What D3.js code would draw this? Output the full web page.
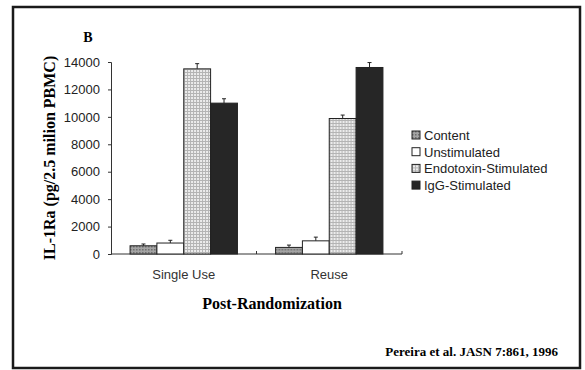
<!DOCTYPE html>
<html>
<head>
<meta charset="utf-8">
<script src="https://cdn.jsdelivr.net/npm/d3@7"></script>
<style>
  body { margin: 0; background: #fff; }
  svg { display: block; }
</style>
</head>
<body>
<svg id="chart"></svg>
<script>
// data
const categories = ["Single Use", "Reuse"];
const series = ["Content", "Unstimulated", "Endotoxin-Stimulated", "IgG-Stimulated"];
const singleUse = [600, 800, 13500, 11000];
const singleUseErr = [130, 200, 380, 320];
const reuse = [480, 960, 9880, 13600];
const reuseErr = [170, 270, 250, 360];
const yTicks = [0, 2000, 4000, 6000, 8000, 10000, 12000, 14000];

const values = [singleUse, reuse];
const errors = [singleUseErr, reuseErr];
const fills = ["url(#dots)", "#ffffff", "url(#grid)", "#262626"];

const W = 585, H = 370;
const svg = d3.select('#chart').attr('width', W).attr('height', H);

// patterns for the shaded bars
const defs = svg.append('defs');
const dots = defs.append('pattern').attr('id', 'dots')
  .attr('patternUnits', 'userSpaceOnUse').attr('width', 3).attr('height', 3);
dots.append('rect').attr('width', 3).attr('height', 3).attr('fill', '#a4a4a4');
dots.append('rect').attr('width', 1.5).attr('height', 1.5).attr('fill', '#6e6e6e');
const grid = defs.append('pattern').attr('id', 'grid')
  .attr('patternUnits', 'userSpaceOnUse').attr('width', 3).attr('height', 3);
grid.append('rect').attr('width', 3).attr('height', 3).attr('fill', '#ececec');
grid.append('path').attr('d', 'M0,0.5H3M0.5,0V3').attr('stroke', '#b4b4b4').attr('stroke-width', 1);

// outer frame
svg.append('rect').attr('x', 13).attr('y', 7).attr('width', 567).attr('height', 361)
  .attr('fill', 'none').attr('stroke', '#1a1a1a').attr('stroke-width', 2.5);

const x0 = d3.scaleBand().domain(categories).range([111, 402])
  .paddingInner(0.262).paddingOuter(0.131);
const x1 = d3.scaleBand().domain(series).range([0, x0.bandwidth()]);
const y = d3.scaleLinear().domain([0, 14000]).range([254, 62]);

// y axis
const yAxis = d3.axisLeft(y).tickValues(yTicks).tickSize(3).tickPadding(8)
  .tickFormat(d3.format('d'));
const gy = svg.append('g').attr('transform', 'translate(111,0)').call(yAxis);
gy.selectAll('path,line').attr('stroke', '#333').attr('stroke-width', 1);
gy.selectAll('text').attr('font-family', 'Liberation Sans, Arial, sans-serif')
  .attr('font-size', 13).attr('fill', '#222');

// x baseline with small upward ticks at group boundaries
const xAxis = d3.axisBottom(x0).tickSize(0).tickPadding(16);
const gx = svg.append('g').attr('transform', 'translate(0,254)').call(xAxis);
gx.select('.domain').attr('stroke', '#333').attr('d', `M111,0H${x0.range()[1]}`);
gx.selectAll('text').attr('font-family', 'Liberation Sans, Arial, sans-serif')
  .attr('font-size', 13).attr('fill', '#333');
const bounds = [x0(categories[1]) - x0.step() * x0.paddingInner() / 2, x0.range()[1]];
gx.selectAll('.bnd').data(bounds).enter().append('line')
  .attr('x1', d => d).attr('x2', d => d).attr('y1', 0).attr('y2', -3)
  .attr('stroke', '#333');

// bars
const groups = svg.append('g').selectAll('g').data(categories).enter().append('g')
  .attr('transform', d => `translate(${x0(d)},0)`);
groups.each(function (cat, ci) {
  const g = d3.select(this);
  series.forEach((s, si) => {
    const v = values[ci][si], e = errors[ci][si];
    const cx = x1(s) + x1.bandwidth() / 2;
    g.append('line').attr('x1', cx).attr('x2', cx).attr('y1', y(v)).attr('y2', y(v + e))
      .attr('stroke', '#222');
    g.append('line').attr('x1', cx - 2).attr('x2', cx + 2).attr('y1', y(v + e)).attr('y2', y(v + e))
      .attr('stroke', '#222');
    g.append('rect').attr('x', x1(s)).attr('y', y(v))
      .attr('width', x1.bandwidth()).attr('height', y(0) - y(v))
      .attr('fill', fills[si]).attr('stroke', '#222').attr('stroke-width', 1);
  });
});

// legend
const leg = svg.append('g').attr('transform', 'translate(412,131)');
series.forEach((s, i) => {
  const r = leg.append('g').attr('transform', `translate(0,${i * 16.7})`);
  r.append('rect').attr('x', 0).attr('y', 0).attr('width', 8).attr('height', 8)
    .attr('fill', fills[i]).attr('stroke', '#222');
  r.append('text').attr('x', 12).attr('y', 9).text(s)
    .attr('font-family', 'Liberation Sans, Arial, sans-serif').attr('font-size', 13).attr('fill', '#222');
});

// titles
const serif = 'Liberation Serif, Times New Roman, serif';
svg.append('text').attr('x', 88).attr('y', 42).attr('text-anchor', 'middle')
  .attr('font-family', serif).attr('font-weight', 'bold').attr('font-size', 14).text('B');
svg.append('text').attr('transform', 'translate(55,158) rotate(-90)').attr('text-anchor', 'middle')
  .attr('font-family', serif).attr('font-weight', 'bold').attr('font-size', 16)
  .text('IL-1Ra (pg/2.5 milion PBMC)');
svg.append('text').attr('x', 272).attr('y', 309).attr('text-anchor', 'middle')
  .attr('font-family', serif).attr('font-weight', 'bold').attr('font-size', 16)
  .text('Post-Randomization');
svg.append('text').attr('x', 558).attr('y', 356).attr('text-anchor', 'end')
  .attr('font-family', serif).attr('font-weight', 'bold').attr('font-size', 13)
  .text('Pereira et al. JASN 7:861, 1996');
</script>
</body>
</html>
